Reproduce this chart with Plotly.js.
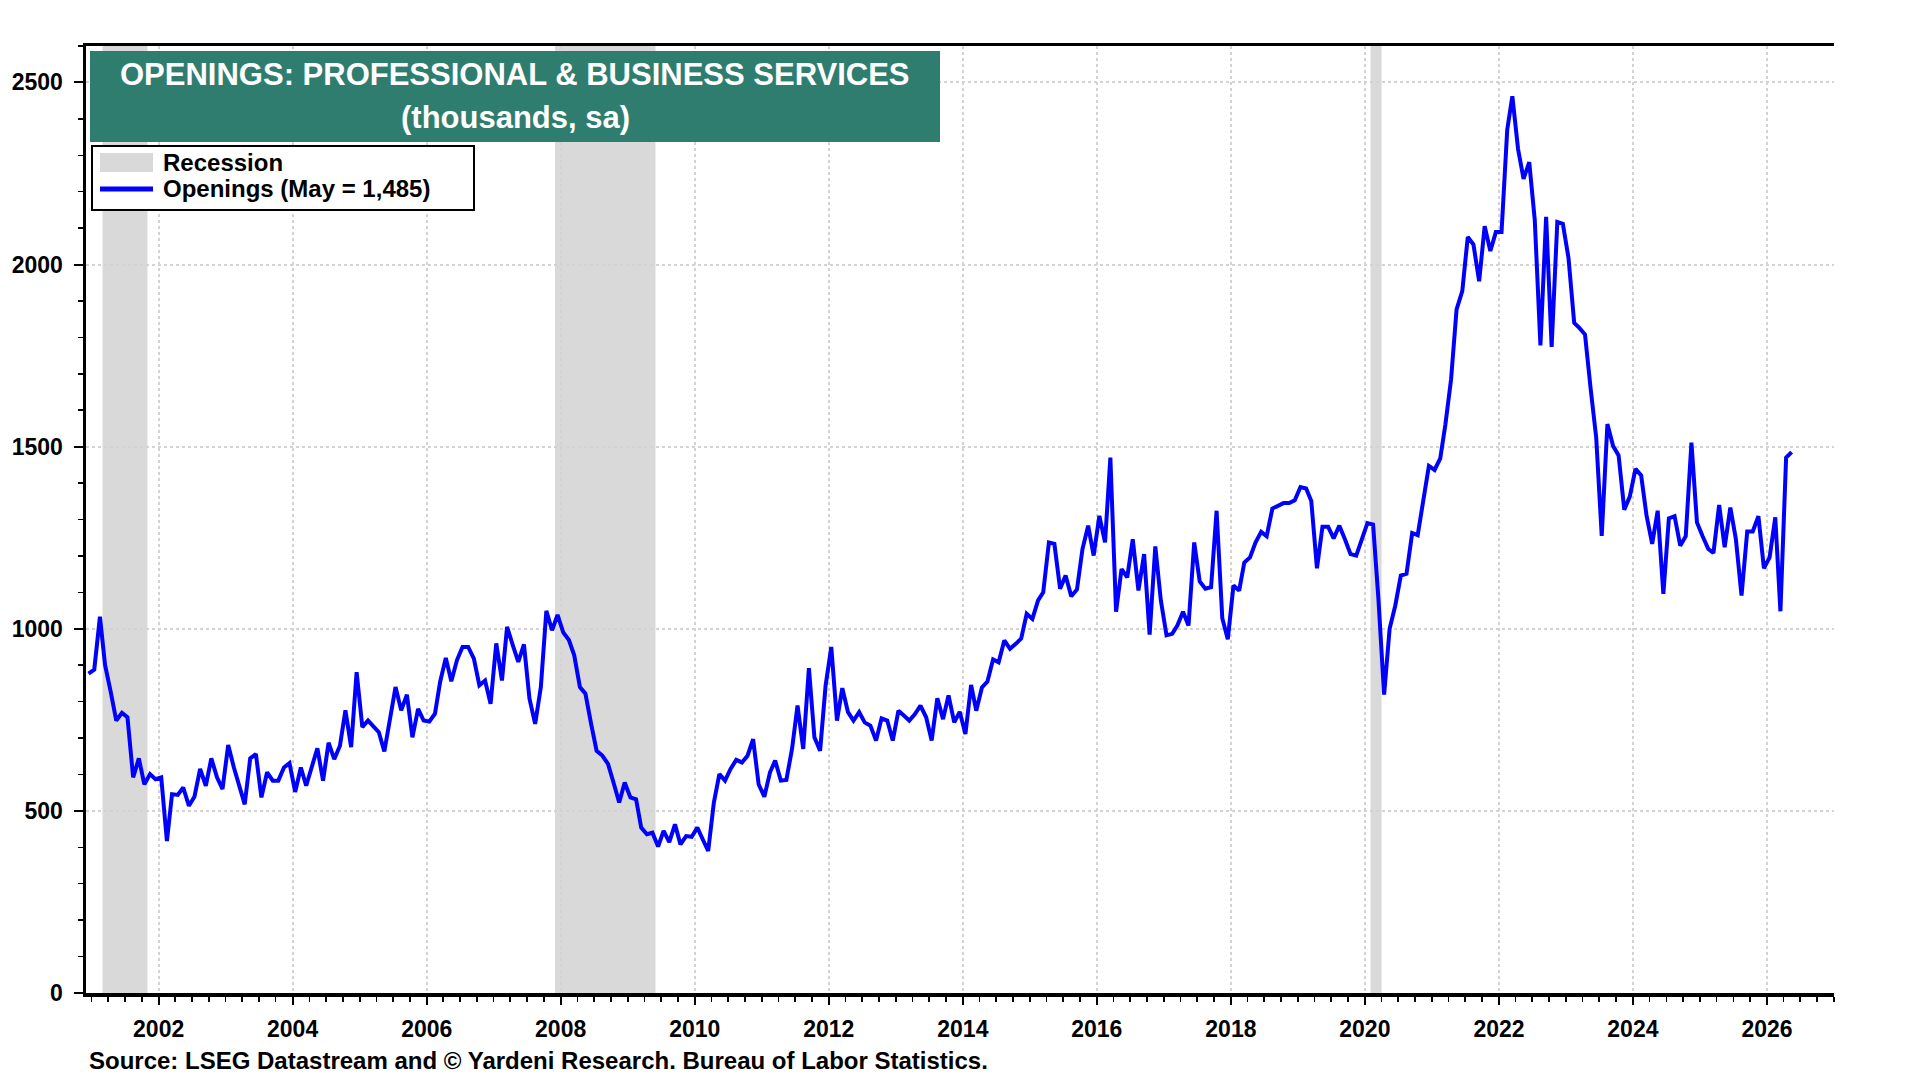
<!DOCTYPE html>
<html>
<head>
<meta charset="utf-8">
<title>Openings: Professional & Business Services</title>
<script src="https://cdn.plot.ly/plotly-3.0.1.min.js"></script>
<style>
    html, body {
        margin: 0;
        padding: 0;
        background: #ffffff;
    }

    #chart {
        width: 1920px;
        height: 1080px;
    }
</style>
</head>
<body>
<div id="chart"></div>
<script>
/******************************************************************************
 * Job openings, professional & business services (thousands, sa)
 * Monthly values, Dec 2000 -> May 2026.
 ******************************************************************************/

const seriesStart = { year: 2000, month: 12 };

// Dec 2000, then Jan..Dec 2001 to 2009
const openings2000s = [
    877,
    888, 1033, 900, 826, 748, 769, 757, 592, 644, 573, 601, 587,
    592, 417, 546, 544, 564, 514, 539, 615, 569, 644, 592, 560,
    681, 619, 573, 518, 644, 656, 537, 606, 583, 583, 619, 631,
    552, 619, 569, 619, 672, 583, 687, 642, 679, 776, 675, 881,
    730, 748, 734, 716, 663, 760, 840, 776, 819, 702, 780, 748,
    745, 767, 854, 920, 856, 914, 950, 950, 918, 845, 858, 794,
    960, 858, 1005, 955, 909, 957, 808, 739, 840, 1049, 996, 1038,
    990, 969, 927, 840, 822, 739, 665, 652, 629, 578, 523, 578,
    537, 532, 454, 436, 440, 402, 445, 414, 463, 408, 431, 429
];

// Jan 2010 .. Dec 2019
const openings2010s = [
    454, 420, 390, 523, 601, 583, 615, 640, 633, 651, 697, 573,
    539, 606, 638, 583, 585, 670, 789, 670, 892, 702, 665, 844,
    950, 748, 837, 771, 748, 771, 743, 734, 693, 754, 748, 693,
    775, 761, 748, 766, 789, 757, 693, 809, 752, 817, 743, 772,
    711, 846, 775, 839, 855, 916, 908, 968, 945, 958, 973, 1041,
    1027, 1078, 1100, 1237, 1233, 1110, 1146, 1089, 1108, 1219, 1283, 1201,
    1310, 1237, 1470, 1047, 1164, 1141, 1246, 1105, 1205, 984, 1226, 1078,
    982, 986, 1009, 1047, 1009, 1237, 1130, 1110, 1114, 1324, 1029, 971,
    1119, 1105, 1182, 1196, 1237, 1266, 1254, 1330, 1339, 1345, 1345, 1353,
    1389, 1385, 1351, 1166, 1280, 1280, 1248, 1283, 1245, 1205, 1201, 1242
];

// Jan 2020 .. May 2026
const openings2020s = [
    1290, 1286, 1082, 819, 1000, 1064, 1146, 1151, 1263, 1257, 1356, 1447,
    1436, 1468, 1561, 1685, 1877, 1927, 2076, 2055, 1954, 2105, 2037, 2089,
    2089, 2370, 2462, 2317, 2235, 2281, 2123, 1778, 2131, 1774, 2117, 2112,
    2018, 1840, 1826, 1808, 1662, 1525, 1255, 1562, 1502, 1476, 1327, 1363,
    1439, 1421, 1312, 1233, 1324, 1096, 1303, 1309, 1228, 1254, 1511, 1292,
    1254, 1219, 1208, 1340, 1224, 1333, 1247, 1091, 1267, 1267, 1309, 1166,
    1196, 1306, 1048, 1470, 1485
];

// NBER recessions (peak month -> trough month)
const recessionStarts = ["2001-03-01", "2007-12-01", "2020-02-01"];
const recessionEnds = ["2001-11-01", "2009-06-01", "2020-04-01"];

const yTickValues = [0, 500, 1000, 1500, 2000, 2500];
const yTickLabels = ["0", "500", "1000", "1500", "2000", "2500"];

const titleLines = [
    "OPENINGS: PROFESSIONAL & BUSINESS SERVICES",
    "(thousands, sa)"
];
const sourceText =
    "Source: LSEG Datastream and © Yardeni Research. Bureau of Labor Statistics.";

const FONT = "Arial, 'Liberation Sans', Helvetica, sans-serif";
const LINE_BLUE = "#0000FF";
const TEAL = "#2F7D6F";
const RECESSION_GREY = "#D9D9D9";

const monthNames = [
    "Jan", "Feb", "Mar", "Apr", "May", "Jun",
    "Jul", "Aug", "Sep", "Oct", "Nov", "Dec"
];

function pad(n) {
    return n < 10 ? "0" + n : "" + n;
}

// mid-month dates, one per value
function monthlyDates(start, count) {
    const dates = [];
    let year = start.year;
    let month = start.month;

    for (let i = 0; i < count; i++) {
        dates.push(year + "-" + pad(month) + "-15");
        month += 1;
        if (month > 12) {
            month = 1;
            year += 1;
        }
    }

    return dates;
}

const openings = openings2000s.concat(openings2010s, openings2020s);
const dates = monthlyDates(seriesStart, openings.length);

const lastValue = openings[openings.length - 1];
const lastMonth = monthNames[Number(dates[dates.length - 1].slice(5, 7)) - 1];
const legendLabel =
    "Openings (" + lastMonth + " = " + lastValue.toLocaleString("en-US") + ")";

// plot area in pixels, used to place the boxed title and legend
const plotBox = { left: 86, right: 1834, top: 46, bottom: 993 };

function px(x) {
    return (x - plotBox.left) / (plotBox.right - plotBox.left);
}

function py(y) {
    return (plotBox.bottom - y) / (plotBox.bottom - plotBox.top);
}

const recessionShapes = recessionStarts.map((start, i) => {
    return {
        type: "rect",
        xref: "x",
        yref: "paper",
        x0: start,
        x1: recessionEnds[i],
        y0: 0,
        y1: 1,
        fillcolor: RECESSION_GREY,
        line: { width: 0 },
        layer: "below"
    };
});

const boxShapes = [
    // title box
    {
        type: "rect",
        xref: "paper",
        yref: "paper",
        x0: px(90),
        x1: px(940),
        y0: py(142),
        y1: py(51),
        fillcolor: TEAL,
        line: { width: 0 },
        layer: "above"
    },
    // legend frame
    {
        type: "rect",
        xref: "paper",
        yref: "paper",
        x0: px(92),
        x1: px(474),
        y0: py(210),
        y1: py(146),
        fillcolor: "#ffffff",
        line: { color: "#000000", width: 2 },
        layer: "above"
    },
    // recession swatch
    {
        type: "rect",
        xref: "paper",
        yref: "paper",
        x0: px(100),
        x1: px(153),
        y0: py(172),
        y1: py(153),
        fillcolor: RECESSION_GREY,
        line: { width: 0 },
        layer: "above"
    },
    // line swatch
    {
        type: "line",
        xref: "paper",
        yref: "paper",
        x0: px(100),
        x1: px(153),
        y0: py(189),
        y1: py(189),
        line: { color: LINE_BLUE, width: 5 },
        layer: "above"
    }
];

function textNote(text, x, y, size, color, xanchor) {
    return {
        text,
        xref: "paper",
        yref: "paper",
        x,
        y,
        xanchor,
        yanchor: "middle",
        showarrow: false,
        font: {
            family: FONT,
            size,
            color,
            weight: "bold"
        }
    };
}

const annotations = [
    textNote(titleLines[0], px(515), py(75), 31, "#ffffff", "center"),
    textNote(titleLines[1], px(515), py(117), 31, "#ffffff", "center"),
    textNote("Recession", px(161), py(162), 24, "#000000", "left"),
    textNote(legendLabel, px(161), py(189), 24, "#000000", "left"),
    textNote(sourceText, px(87), py(1060), 24, "#000000", "left")
];

const yAxisBase = {
    range: [0, 2600],
    tickmode: "array",
    tickvals: yTickValues,
    ticktext: yTickLabels,
    ticks: "outside",
    ticklen: 9,
    tickwidth: 2,
    tickcolor: "#000000",
    ticklabelstandoff: 6,
    tickfont: {
        family: FONT,
        size: 23,
        color: "#000000",
        weight: "bold"
    },
    minor: {
        tickmode: "linear",
        tick0: 0,
        dtick: 100,
        ticks: "outside",
        ticklen: 5,
        tickwidth: 1.5,
        tickcolor: "#000000",
        showgrid: false
    },
    showline: true,
    linecolor: "#000000",
    linewidth: 3.5,
    zeroline: false,
    fixedrange: true
};

const layout = {
    width: 1920,
    height: 1080,
    paper_bgcolor: "#ffffff",
    plot_bgcolor: "#ffffff",
    showlegend: false,

    margin: {
        l: plotBox.left,
        r: 1920 - plotBox.right,
        t: plotBox.top,
        b: 1080 - plotBox.bottom
    },

    xaxis: {
        type: "date",
        range: ["2000-12-01", "2027-01-01"],
        tick0: "2000-01-01",
        dtick: "M24",
        tickformat: "%Y",
        ticks: "outside",
        ticklen: 8,
        tickwidth: 2,
        tickcolor: "#000000",
        ticklabelstandoff: 5,
        tickfont: {
            family: FONT,
            size: 23,
            color: "#000000",
            weight: "bold"
        },
        minor: {
            tick0: "2000-01-01",
            dtick: "M3",
            ticks: "outside",
            ticklen: 5,
            tickwidth: 1.5,
            tickcolor: "#000000",
            showgrid: false
        },
        showgrid: true,
        gridcolor: "#D3D3D3",
        gridwidth: 2,
        griddash: "dot",
        showline: true,
        mirror: true,
        linecolor: "#000000",
        linewidth: 3.5,
        zeroline: false,
        fixedrange: true
    },

    yaxis: Object.assign({}, yAxisBase, {
        side: "left",
        showgrid: true,
        gridcolor: "#D3D3D3",
        gridwidth: 2,
        griddash: "dot"
    }),

    yaxis2: Object.assign({}, yAxisBase, {
        side: "right",
        overlaying: "y",
        showgrid: false
    }),

    shapes: recessionShapes.concat(boxShapes),
    annotations
};

const traces = [
    {
        x: dates,
        y: openings,
        type: "scatter",
        mode: "lines",
        name: legendLabel,
        line: {
            color: LINE_BLUE,
            width: 4
        },
        hoverinfo: "x+y"
    }
];

Plotly.newPlot("chart", traces, layout, {
    displayModeBar: false,
    responsive: false,
    staticPlot: true
});
</script>
</body>
</html>
